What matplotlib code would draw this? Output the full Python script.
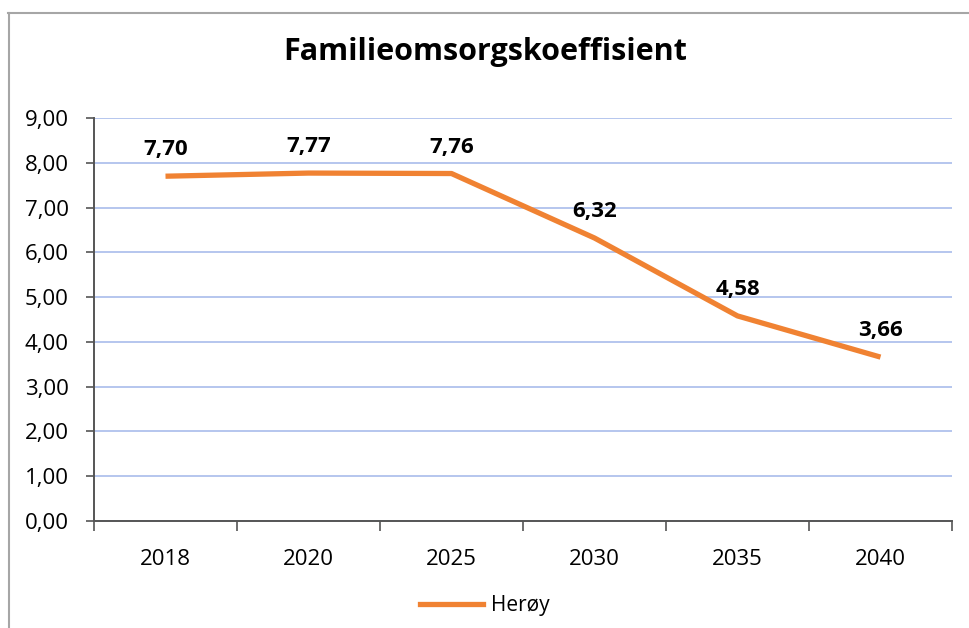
import numpy as np
import matplotlib.pyplot as plt
from matplotlib.lines import Line2D

years = ['2018', '2020', '2025', '2030', '2035', '2040']
heroy = [7.70, 7.77, 7.76, 6.32, 4.58, 3.66]
yticks = np.arange(0, 10, 1)

W, H = 970, 628
fig = plt.figure(figsize=(W / 100, H / 100), dpi=100)
plt.rcParams['font.family'] = ['Open Sans', 'DejaVu Sans']

# axes box in pixel coords
left, right, top, bottom = 94, 952, 118, 521
ax = fig.add_axes([left / W, 1 - bottom / H, (right - left) / W, (bottom - top) / H])

x = np.arange(len(years))
ax.plot(x, heroy, color='#F08232', lw=3.8, solid_capstyle='butt', label='Herøy')
for xi, v in zip(x, heroy):
  ax.annotate(f"{v:.2f}".replace('.', ','), (xi, v), xytext=(0, 15),
              textcoords='offset points', ha='center', va='baseline',
              fontsize=16, fontweight='bold')

ax.set_xlim(-0.5, len(years) - 0.5)
ax.set_ylim(0, 9)
ax.set_yticks(yticks)
ax.set_yticklabels([f"{v:.2f}".replace('.', ',') for v in yticks], fontsize=16)
ax.set_xticks(x)
ax.set_xticklabels(years, fontsize=16)
ax.set_xticks(np.arange(-0.5, len(years)), minor=True)
ax.tick_params(axis='x', which='major', length=0, pad=20)
ax.tick_params(axis='x', which='minor', length=7, direction='out', color='#555555', width=1.2)
ax.tick_params(axis='y', length=6, direction='out', color='#555555', width=1.2, pad=12)

ax.grid(axis='y', color='#A9BCEB', lw=1.2)
ax.set_axisbelow(True)
for s in ['top', 'right']:
  ax.spines[s].set_visible(False)
for s in ['left', 'bottom']:
  ax.spines[s].set_color('#555555')
  ax.spines[s].set_linewidth(1.4)

fig.text(0.5, 1 - 52 / H, 'Familieomsorgskoeffisient', ha='center', va='center',
         fontsize=22, fontweight='bold')

leg = fig.legend(handles=[Line2D([0], [0], color='#F08232', lw=3.8)], labels=['Herøy'],
                 loc='center', bbox_to_anchor=(0.5, 1 - 606 / H), frameon=False,
                 fontsize=15, handlelength=3.0, handletextpad=0.4)

# chart frame (only top and left visible)
fig.add_artist(Line2D([8 / W, 1], [1 - 13 / H, 1 - 13 / H], color='#A6A6A6', lw=1.5))
fig.add_artist(Line2D([9 / W, 9 / W], [0, 1 - 13 / H], color='#A6A6A6', lw=1.5))

fig.savefig('out.png', dpi=100)
